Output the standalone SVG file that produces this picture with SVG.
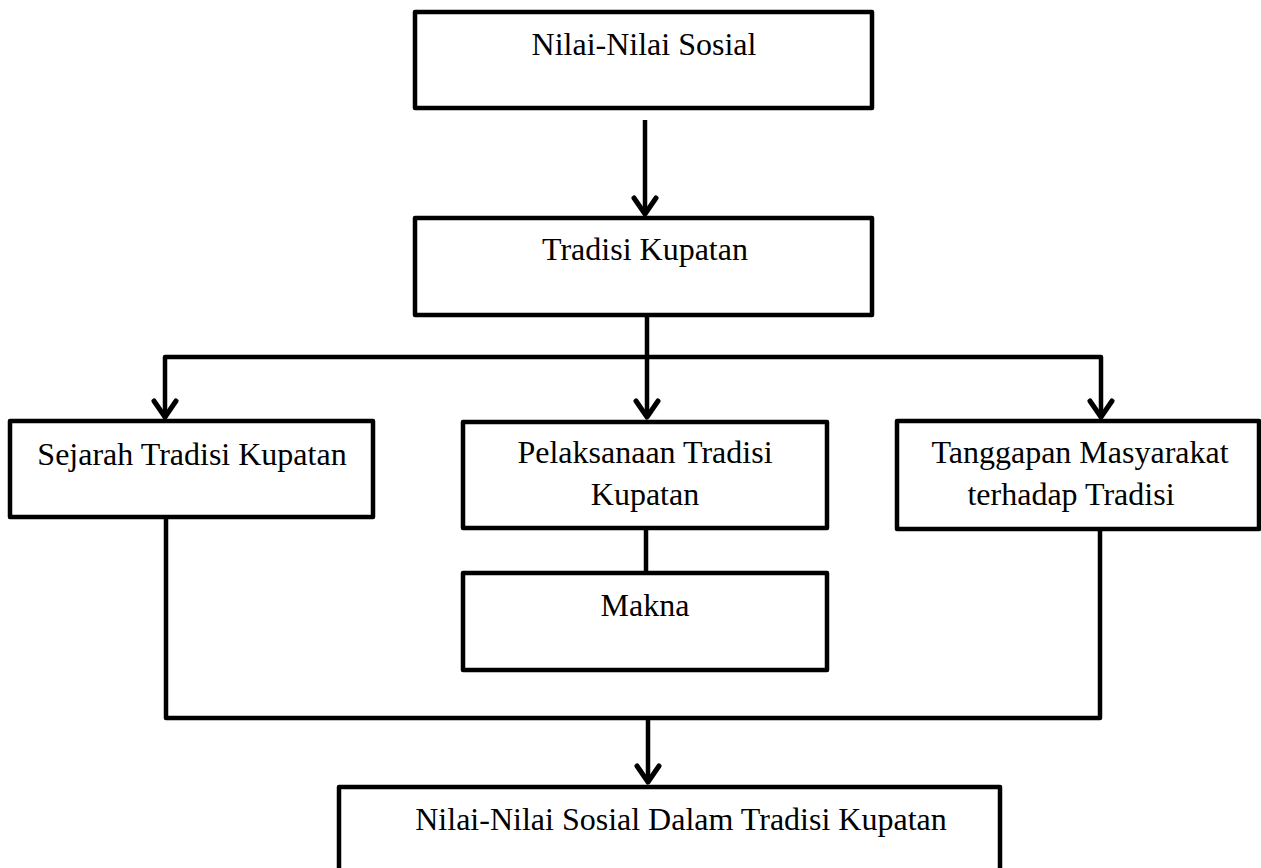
<svg xmlns="http://www.w3.org/2000/svg" width="1261" height="868" viewBox="0 0 1261 868">
  <style>
    .box { fill: #ffffff; stroke: #000000; stroke-width: 4.5; stroke-linejoin: round; }
    .line { fill: none; stroke: #000000; stroke-width: 4.5; stroke-linejoin: round; stroke-linecap: butt; }
    .head { fill: none; stroke: #000000; stroke-width: 5; stroke-linejoin: round; stroke-linecap: round; }
    text { font-family: "Liberation Serif", "Times New Roman", serif; font-size: 32px; fill: #000000; text-anchor: middle; }
  </style>
  <rect width="1261" height="868" fill="#ffffff"/>

  <g id="connectors">
    <!-- Nilai-Nilai Sosial -> Tradisi Kupatan -->
    <line class="line" x1="645" y1="120" x2="645" y2="213"/>
    <path class="head" d="M634,198 L645,214 L656,198"/>
    <!-- Tradisi Kupatan -> branch -->
    <line class="line" x1="647" y1="315" x2="647" y2="416"/>
    <polyline class="line" points="165,418 165,357 1101,357 1101,416"/>
    <path class="head" d="M154,401 L165,417 L176,401"/>
    <path class="head" d="M636,401 L647,417 L658,401"/>
    <path class="head" d="M1090,401 L1101,417 L1112,401"/>
    <!-- Pelaksanaan -> Makna -->
    <line class="line" x1="646" y1="528" x2="646" y2="573"/>
    <!-- Collect -->
    <polyline class="line" points="166,517 166,718 1100,718 1100,529"/>
    <line class="line" x1="648" y1="718" x2="648" y2="781"/>
    <path class="head" d="M637,766 L648,782 L659,766"/>
  </g>

  <g id="node-nilai-sosial">
    <rect class="box" x="415" y="12" width="457" height="96"/>
    <text x="644" y="55">Nilai-Nilai Sosial</text>
  </g>

  <g id="node-tradisi-kupatan">
    <rect class="box" x="415" y="218" width="457" height="97"/>
    <text x="645" y="260">Tradisi Kupatan</text>
  </g>

  <g id="node-sejarah">
    <rect class="box" x="10" y="421" width="363" height="96"/>
    <text x="192" y="465">Sejarah Tradisi Kupatan</text>
  </g>

  <g id="node-pelaksanaan">
    <rect class="box" x="463" y="422" width="364" height="106"/>
    <text x="645" y="463">Pelaksanaan Tradisi</text>
    <text x="645" y="505">Kupatan</text>
  </g>

  <g id="node-makna">
    <rect class="box" x="463" y="573" width="364" height="97"/>
    <text x="645" y="616">Makna</text>
  </g>

  <g id="node-tanggapan">
    <rect class="box" x="897" y="421" width="362" height="108"/>
    <text x="1080" y="463">Tanggapan Masyarakat</text>
    <text x="1071" y="505">terhadap Tradisi</text>
  </g>

  <g id="node-hasil">
    <rect class="box" x="339" y="787" width="661" height="100"/>
    <text x="681" y="830">Nilai-Nilai Sosial Dalam Tradisi Kupatan</text>
  </g>
</svg>
